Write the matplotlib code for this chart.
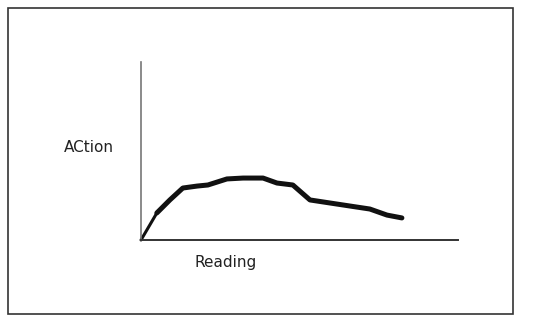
import matplotlib
matplotlib.use("Agg")
import matplotlib.pyplot as plt
from matplotlib.patches import Rectangle

# Data
reading = [0, 5.0, 9.1, 13.2, 17.7, 21.1, 27.1, 32.2, 38.5, 42.9, 47.9, 53.3, 61.8, 68.1, 72.2, 77.6, 82.3]
action = [0, 15.2, 22.5, 29.2, 30.3, 30.9, 34.3, 34.8, 34.8, 32.0, 30.9, 22.5, 20.2, 18.5, 17.4, 14.0, 12.4]
x_label = "Reading"
y_label = "ACtion"

W, H = 540, 324
fig = plt.figure(figsize=(W / 100, H / 100), dpi=100)
fig.patch.set_facecolor("white")

# outer border
fig.patches.append(Rectangle((8 / W, 1 - 314 / H), (513 - 8) / W, (314 - 8) / H,
                             transform=fig.transFigure, fill=False,
                             edgecolor="#333333", linewidth=1.2))

ax = fig.add_axes([141 / W, 1 - 240 / H, 317 / W, 178 / H])
ax.set_xlim(0, 100)
ax.set_ylim(0, 100)
ax.set_facecolor("none")
for s in ["top", "right"]:
    ax.spines[s].set_visible(False)
ax.spines["left"].set_color("#777777")
ax.spines["left"].set_linewidth(1.2)
ax.spines["bottom"].set_color("#333333")
ax.spines["bottom"].set_linewidth(1.4)
ax.set_xticks([])
ax.set_yticks([])

# thin start segment, thicker main stroke
ax.plot(reading[:2], action[:2], color="#111111", linewidth=2.2,
        solid_capstyle="round", clip_on=False)
ax.plot(reading[1:], action[1:], color="#111111", linewidth=3.6,
        solid_capstyle="round", solid_joinstyle="round", clip_on=False)

fig.text(89 / W, 1 - 148 / H, y_label, ha="center", va="center",
         fontsize=11, family="DejaVu Sans", color="#222222")
fig.text(226 / W, 1 - 262 / H, x_label, ha="center", va="center",
         fontsize=11, family="DejaVu Sans", color="#222222")

fig.savefig("out.png", dpi=100)
